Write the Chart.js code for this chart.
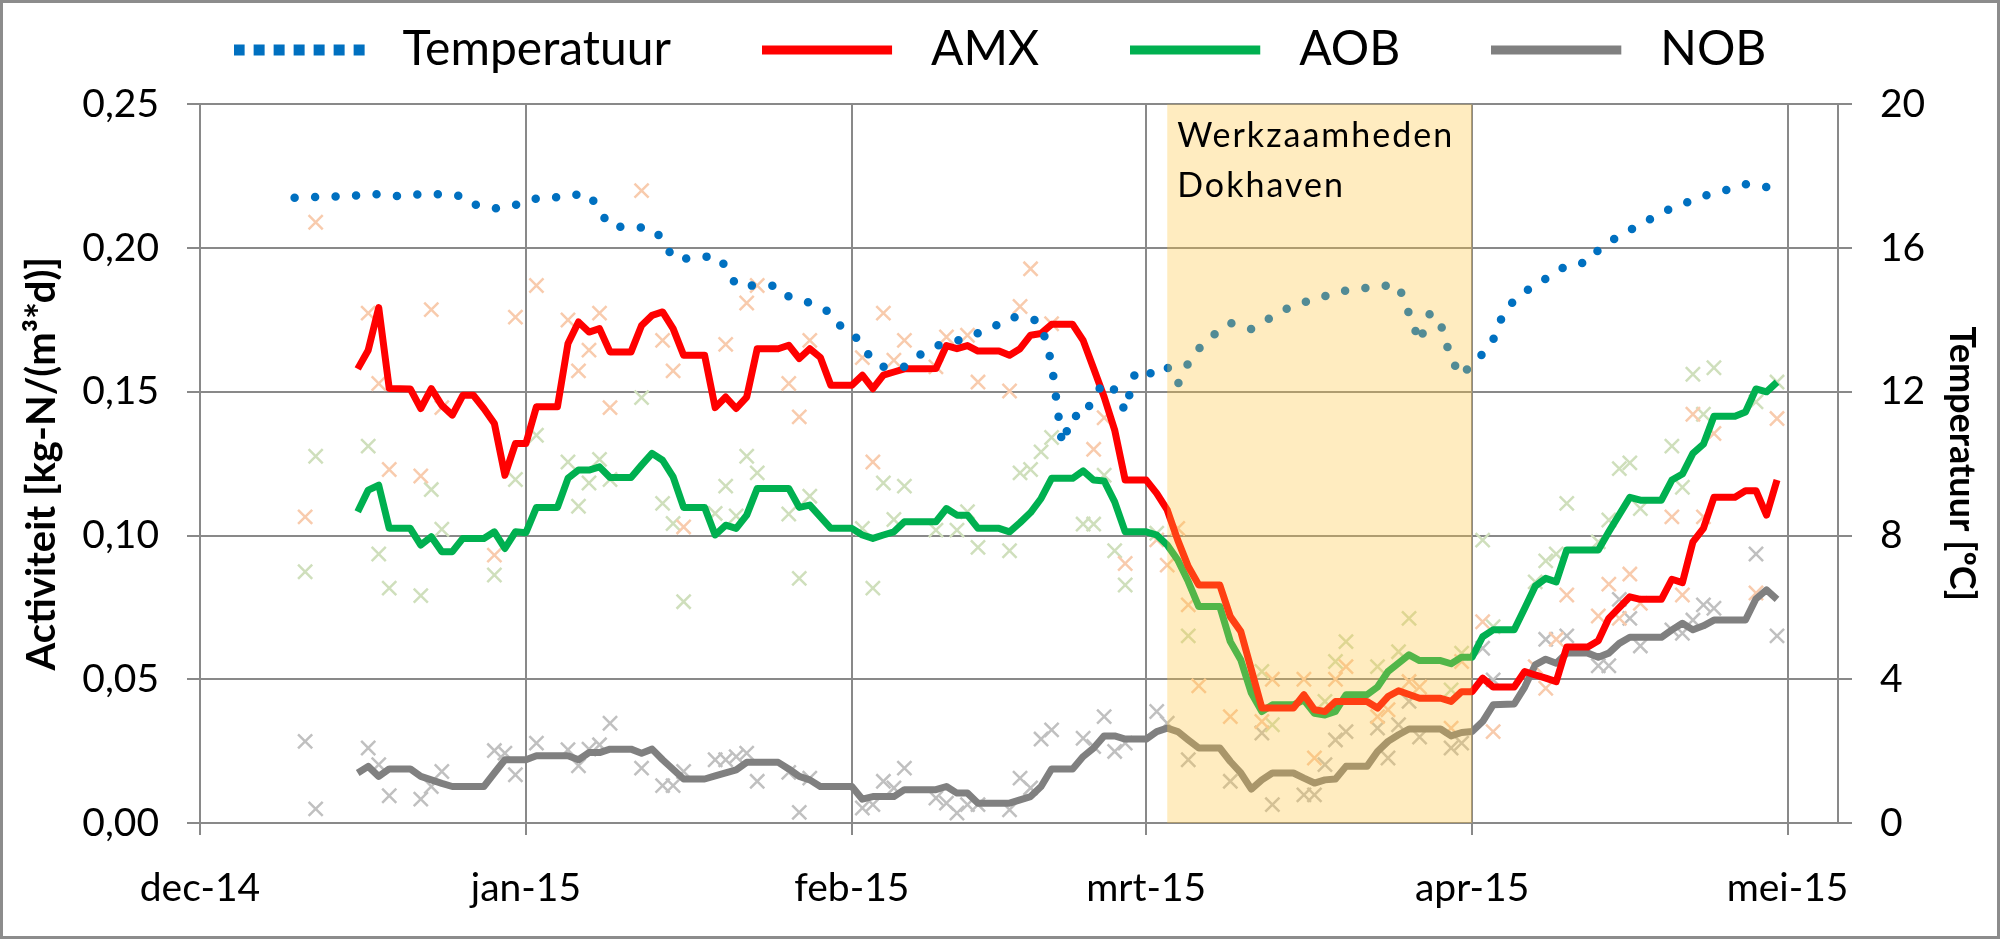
<!DOCTYPE html>
<html lang="nl">
<head>
  <meta charset="UTF-8" />
  <title>Activiteit AMX, AOB en NOB - Dokhaven</title>
  <script src="https://cdn.jsdelivr.net/npm/chart.js"></script>
  <style>
    html, body {
      margin: 0;
      padding: 0;
      background: #ffffff;
    }
    .chart-wrap {
      width: 2000px;
      height: 939px;
    }
  </style>
</head>
<body>
  <div class="chart-wrap">
    <canvas id="activityChart" width="2000" height="939"></canvas>
  </div>

  <script>
    // x = days since 1 dec 2014
    const monthDays = [0, 31, 62, 90, 121, 151];
    const monthLabels = ['dec-14', 'jan-15', 'feb-15', 'mrt-15', 'apr-15', 'mei-15'];

    const worksDays = [92, 121];
    const worksLabel = ['Werkzaamheden', 'Dokhaven'];

    const tempDays = [9, 11, 13, 15, 17, 19, 21, 23, 25, 26,
      28, 30, 32, 34, 35, 37, 38, 39, 41, 43,
      44, 45, 47, 49, 50, 51, 55, 56, 58, 60,
      61, 62, 63, 64, 65, 67, 68, 70, 72, 73,
      75, 77, 79, 80, 81, 82, 83, 84, 85, 86,
      87, 88, 89, 91, 92, 93, 94, 95, 96, 98,
      100, 101, 103, 105, 106, 108, 110, 112, 114, 116,
      117, 118, 119, 120, 121, 122, 123, 124, 125, 127,
      128, 130, 132, 133, 135, 137, 138, 140, 142, 143,
      145, 147, 149, 150];
    const tempValues = [17.4, 17.42, 17.44, 17.47, 17.5, 17.44, 17.5, 17.5, 17.45, 17.22,
      17.1, 17.2, 17.38, 17.42, 17.48, 17.5, 17.05, 16.6, 16.59, 16.55,
      16.25, 15.71, 15.71, 15.8, 15.5, 14.96, 14.95, 14.65, 14.48, 14.2,
      13.8, 13.65, 13.3, 12.85, 12.7, 12.7, 12.95, 13.28, 13.42, 13.55,
      13.72, 14.08, 14.06, 13.9, 12.8, 10.55, 11.35, 11.28, 11.85, 12.28,
      12.05, 11.46, 12.6, 12.48, 12.69, 12.21, 12.8, 13.2, 13.5, 13.92,
      13.75, 13.92, 14.27, 14.5, 14.55, 14.78, 14.85, 14.95, 14.96, 13.39,
      14.2, 13.9, 12.9, 12.44, 12.8, 13.05, 13.45, 14.2, 14.55, 15.0,
      15.15, 15.52, 15.61, 15.95, 16.35, 16.65, 16.82, 17.12, 17.33, 17.45,
      17.6, 17.78, 17.7, 17.65];

    const amxDays = [15, 16, 17, 18, 20, 21, 22, 23, 24, 25,
      26, 27, 28, 29, 30, 31, 32, 34, 35, 36,
      37, 38, 39, 41, 42, 43, 44, 45, 46, 48,
      49, 50, 51, 52, 53, 55, 56, 57, 58, 59,
      60, 62, 63, 64, 65, 66, 67, 69, 70, 71,
      72, 73, 74, 76, 77, 78, 79, 80, 81, 83,
      84, 85, 86, 87, 88, 90, 91, 92, 93, 94,
      95, 97, 98, 99, 100, 101, 104, 105, 106, 107,
      108, 111, 112, 113, 114, 116, 118, 119, 120, 121,
      122, 123, 125, 126, 127, 128, 129, 130, 132, 133,
      134, 136, 137, 139, 140, 141, 142, 143, 144, 146,
      147, 148, 149, 150];
    const amxValues = [0.158, 0.1645, 0.1793, 0.1512, 0.151, 0.1442, 0.1511, 0.1453, 0.1419, 0.1488,
      0.1488, 0.1442, 0.139, 0.121, 0.132, 0.132, 0.1448, 0.1448, 0.1668, 0.1743,
      0.1708, 0.172, 0.1639, 0.1639, 0.1731, 0.1766, 0.1778, 0.172, 0.1627, 0.1627,
      0.1445, 0.1482, 0.1442, 0.1482, 0.165, 0.165, 0.1662, 0.1616, 0.165, 0.162,
      0.1523, 0.1523, 0.1558, 0.1511, 0.1558, 0.1569, 0.158, 0.158, 0.1581, 0.1661,
      0.165, 0.1661, 0.1642, 0.1642, 0.1627, 0.165, 0.1697, 0.1703, 0.1735, 0.1735,
      0.1679, 0.1581, 0.1482, 0.1367, 0.1193, 0.1193, 0.1147, 0.1089, 0.0984, 0.0892,
      0.0828, 0.0828, 0.0718, 0.0666, 0.0533, 0.04, 0.04, 0.0446, 0.0394, 0.0388,
      0.0423, 0.0423, 0.04, 0.044, 0.046, 0.0434, 0.0434, 0.0423, 0.0457, 0.0457,
      0.0504, 0.0473, 0.0473, 0.0527, 0.0515, 0.0504, 0.0492, 0.0612, 0.0612, 0.0634,
      0.0712, 0.0787, 0.0778, 0.0778, 0.0848, 0.0836, 0.0978, 0.1025, 0.1133, 0.1133,
      0.1156, 0.1156, 0.1071, 0.1193];

    const aobDays = [15, 16, 17, 18, 20, 21, 22, 23, 24, 25,
      27, 28, 29, 30, 31, 32, 34, 35, 36, 37,
      38, 39, 41, 42, 43, 44, 45, 46, 48, 49,
      50, 51, 52, 53, 56, 57, 58, 60, 62, 63,
      64, 65, 66, 67, 70, 71, 72, 73, 74, 76,
      77, 78, 79, 80, 81, 83, 84, 85, 86, 87,
      88, 90, 91, 92, 93, 94, 95, 97, 98, 99,
      100, 101, 102, 104, 105, 106, 107, 108, 109, 111,
      112, 113, 115, 116, 118, 119, 120, 121, 122, 123,
      125, 126, 127, 128, 129, 130, 133, 134, 136, 137,
      139, 140, 141, 142, 143, 144, 146, 147, 148, 149,
      150];
    const aobValues = [0.1083, 0.1158, 0.1175, 0.1025, 0.1025, 0.0967, 0.0996, 0.0944, 0.0944, 0.099,
      0.099, 0.1013, 0.0955, 0.1013, 0.101, 0.1098, 0.1098, 0.1199, 0.1228, 0.1228,
      0.1239, 0.1202, 0.1202, 0.1245, 0.1286, 0.1262, 0.1204, 0.1098, 0.1098, 0.1002,
      0.1036, 0.1025, 0.1071, 0.1164, 0.1164, 0.1098, 0.1106, 0.1025, 0.1025, 0.1002,
      0.099, 0.1002, 0.1013, 0.1048, 0.1048, 0.1094, 0.1071, 0.1071, 0.1025, 0.1025,
      0.1013, 0.1045, 0.108, 0.1129, 0.1199, 0.1199, 0.1225, 0.1193, 0.119, 0.1117,
      0.1013, 0.1013, 0.1002, 0.0967, 0.0915, 0.084, 0.0753, 0.0753, 0.0631, 0.0567,
      0.0452, 0.0388, 0.0411, 0.0411, 0.0428, 0.0382, 0.0376, 0.0388, 0.0446, 0.0446,
      0.0473, 0.0527, 0.0585, 0.0565, 0.0565, 0.0554, 0.0577, 0.0577, 0.0648, 0.0672,
      0.0672, 0.0747, 0.0824, 0.0851, 0.0839, 0.095, 0.095, 0.1013, 0.1133, 0.1123,
      0.1123, 0.1193, 0.1214, 0.1286, 0.1318, 0.1415, 0.1415, 0.143, 0.151, 0.15,
      0.1534];

    const nobDays = [15, 16, 17, 18, 20, 21, 22, 23, 24, 27,
      28, 29, 31, 32, 35, 36, 37, 38, 39, 41,
      42, 43, 44, 46, 48, 49, 51, 52, 55, 56,
      57, 58, 59, 62, 63, 64, 66, 67, 70, 71,
      72, 73, 74, 77, 79, 80, 81, 83, 84, 85,
      86, 87, 88, 90, 91, 92, 93, 94, 95, 97,
      98, 99, 100, 101, 102, 104, 105, 106, 107, 108,
      109, 111, 112, 113, 114, 115, 118, 119, 120, 121,
      122, 123, 125, 126, 127, 128, 129, 130, 132, 133,
      134, 135, 136, 139, 140, 141, 142, 143, 144, 147,
      148, 149, 150];
    const nobValues = [0.0174, 0.0197, 0.0162, 0.0188, 0.0188, 0.0162, 0.015, 0.0138, 0.0127, 0.0127,
      0.0174, 0.022, 0.022, 0.0234, 0.0234, 0.022, 0.0245, 0.0245, 0.0257, 0.0257,
      0.0243, 0.0257, 0.022, 0.0153, 0.0153, 0.0164, 0.0185, 0.0211, 0.0211, 0.0188,
      0.0162, 0.015, 0.0127, 0.0127, 0.0083, 0.0092, 0.0092, 0.0116, 0.0116, 0.0127,
      0.0104, 0.0104, 0.0069, 0.0069, 0.0092, 0.0127, 0.0188, 0.0188, 0.0231, 0.0261,
      0.0303, 0.0303, 0.0292, 0.0292, 0.0318, 0.033, 0.0318, 0.0289, 0.0261, 0.0261,
      0.0214, 0.0174, 0.0118, 0.015, 0.0174, 0.0174, 0.0156, 0.0139, 0.015, 0.0153,
      0.0197, 0.0197, 0.0249, 0.0284, 0.0307, 0.0327, 0.0327, 0.0303, 0.0315, 0.0318,
      0.0353, 0.0411, 0.0414, 0.0473, 0.055, 0.057, 0.0556, 0.0591, 0.0591, 0.0577,
      0.0591, 0.0625, 0.0646, 0.0646, 0.0672, 0.0695, 0.0672, 0.0686, 0.0706, 0.0706,
      0.078, 0.0811, 0.0778];

    // single measurements (crosses)
    const amxRawDays = [10, 11, 16, 17, 18, 21, 22, 23, 28, 30,
      32, 35, 36, 37, 38, 39, 42, 44, 45, 46,
      50, 52, 53, 56, 57, 58, 63, 64, 65, 66,
      67, 70, 71, 73, 74, 77, 78, 79, 81, 85,
      86, 88, 91, 92, 93, 94, 95, 98, 101, 102,
      105, 106, 108, 109, 112, 113, 115, 116, 119, 120,
      122, 123, 127, 128, 129, 130, 133, 134, 135, 136,
      137, 140, 141, 142, 143, 144, 148, 150];
    const amxRawValues = [0.1065, 0.209, 0.1774, 0.1529, 0.123, 0.1207, 0.1786, 0.1445, 0.0932, 0.176,
      0.187, 0.175, 0.1573, 0.1645, 0.1774, 0.1445, 0.22, 0.1679, 0.1573, 0.103,
      0.1665, 0.1809, 0.187, 0.1529, 0.1413, 0.1679, 0.1619, 0.1256, 0.1774, 0.161,
      0.1679, 0.1587, 0.1691, 0.1697, 0.1534, 0.1503, 0.1797, 0.1928, 0.1737, 0.13,
      0.141, 0.0903, 0.0985, 0.0897, 0.1025, 0.0759, 0.0477, 0.037, 0.0353, 0.05,
      0.05, 0.0226, 0.05, 0.0544, 0.037, 0.0394, 0.0492, 0.0473, 0.033, 0.0562,
      0.07, 0.0318, 0.0544, 0.0469, 0.0639, 0.0793, 0.072, 0.0831, 0.0712, 0.0866,
      0.0764, 0.1065, 0.0793, 0.1422, 0.1065, 0.1355, 0.08, 0.1407];

    const aobRawDays = [10, 11, 16, 17, 18, 21, 22, 23, 28, 30,
      32, 35, 36, 37, 38, 39, 42, 44, 45, 46,
      49, 50, 51, 52, 53, 56, 57, 58, 63, 64,
      65, 66, 67, 70, 72, 73, 74, 77, 78, 79,
      80, 81, 84, 85, 86, 87, 88, 91, 94, 101,
      102, 107, 108, 109, 112, 114, 115, 119, 120, 122,
      123, 127, 128, 129, 130, 133, 134, 135, 136, 137,
      140, 141, 142, 143, 144, 148, 150];
    const aobRawValues = [0.0874, 0.1276, 0.1311, 0.0936, 0.0817, 0.0791, 0.116, 0.1022, 0.0863, 0.1195,
      0.1349, 0.1256, 0.1102, 0.1183, 0.1265, 0.1195, 0.148, 0.1112, 0.1042, 0.077,
      0.1077, 0.1172, 0.1068, 0.1276, 0.1218, 0.1075, 0.0851, 0.1137, 0.1025, 0.0817,
      0.1183, 0.1056, 0.1172, 0.1019, 0.1019, 0.1083, 0.0959, 0.0947, 0.1218, 0.123,
      0.1291, 0.1341, 0.104, 0.104, 0.121, 0.0947, 0.0828, 0.1008, 0.0651, 0.0527,
      0.0342, 0.0423, 0.0562, 0.0631, 0.0544, 0.0596, 0.0712, 0.0463, 0.0591, 0.0984,
      0.0683, 0.0839, 0.0912, 0.0936, 0.1112, 0.0978, 0.1054, 0.1233, 0.1253, 0.1094,
      0.1311, 0.1168, 0.1561, 0.1422, 0.1584, 0.1465, 0.1534];

    const nobRawDays = [10, 11, 16, 17, 18, 21, 22, 23, 28, 29,
      30, 32, 35, 36, 37, 38, 39, 42, 44, 45,
      46, 49, 50, 51, 52, 53, 56, 57, 58, 63,
      64, 65, 66, 67, 70, 71, 72, 73, 74, 77,
      78, 79, 80, 81, 84, 85, 86, 87, 88, 91,
      92, 94, 98, 101, 102, 105, 106, 107, 108, 109,
      112, 113, 114, 115, 116, 119, 120, 122, 123, 128,
      130, 133, 134, 135, 136, 137, 140, 141, 142, 143,
      144, 148, 150];
    const nobRawValues = [0.0284, 0.0049, 0.0261, 0.0203, 0.0095, 0.0083, 0.0127, 0.0179, 0.0252, 0.0243,
      0.0168, 0.0278, 0.0255, 0.0199, 0.0257, 0.0272, 0.0347, 0.0191, 0.013, 0.013,
      0.0179, 0.022, 0.022, 0.0231, 0.0243, 0.0145, 0.0176, 0.0037, 0.0156, 0.0052,
      0.0064, 0.0145, 0.0122, 0.0191, 0.0087, 0.0069, 0.0035, 0.0064, 0.0064, 0.0046,
      0.0156, 0.0122, 0.0292, 0.0324, 0.0295, 0.0266, 0.037, 0.0249, 0.0278, 0.0388,
      0.0347, 0.022, 0.0145, 0.0313, 0.0064, 0.0098, 0.0098, 0.0203, 0.0289, 0.0318,
      0.033, 0.0226, 0.0342, 0.0423, 0.0299, 0.0261, 0.0278, 0.0608, 0.0498, 0.0639,
      0.0651, 0.0547, 0.0547, 0.0778, 0.0712, 0.0616, 0.0672, 0.066, 0.0706, 0.0759,
      0.0747, 0.0936, 0.0651];

    const toPoints = (days, values) => days.map((d, i) => ({ x: d, y: values[i] }));

    Chart.defaults.font.family = 'Lato, "Open Sans", sans-serif';
    Chart.defaults.color = '#000000';

    const gridColor = '#898989';

    // little canvases used as legend samples
    function legendSample(ds) {
      const c = document.createElement('canvas');
      c.width = 145;
      c.height = 12;
      const g = c.getContext('2d');
      g.fillStyle = ds.borderColor;
      if (ds.borderDash) {
        for (let x = 0; x < 130; x += 20) g.fillRect(x, 0.5, 11, 11);
      } else {
        g.fillRect(0, 1.5, 130, 9);
      }
      return c;
    }

    const worksBand = {
      id: 'worksBand',
      afterDatasetsDraw(chart) {
        const { ctx, chartArea, scales } = chart;
        const x0 = scales.x.getPixelForValue(worksDays[0]);
        const x1 = scales.x.getPixelForValue(worksDays[1]);
        ctx.save();
        ctx.fillStyle = 'rgba(255, 195, 60, 0.32)';
        ctx.fillRect(x0, chartArea.top, x1 - x0, chartArea.bottom - chartArea.top);
        ctx.fillStyle = '#000000';
        ctx.font = '34px Lato, sans-serif';
        if ('letterSpacing' in ctx) ctx.letterSpacing = '2px';
        ctx.textBaseline = 'alphabetic';
        worksLabel.forEach((line, i) => {
          ctx.fillText(line, x0 + 10, chartArea.top + 43 + i * 50);
        });
        ctx.restore();
      }
    };

    const frame = {
      id: 'frame',
      beforeDraw(chart) {
        const { ctx, width, height } = chart;
        ctx.save();
        ctx.fillStyle = '#ffffff';
        ctx.fillRect(0, 0, width, height);
        ctx.restore();
      },
      afterDraw(chart) {
        const { ctx, width, height } = chart;
        ctx.save();
        ctx.strokeStyle = '#8c8c8c';
        ctx.lineWidth = 3;
        ctx.strokeRect(1.5, 1.5, width - 3, height - 3);
        ctx.restore();
      }
    };

    const lineStyle = {
      pointRadius: 0,
      pointHoverRadius: 0,
      borderWidth: 7,
      borderJoinStyle: 'round',
      tension: 0,
      fill: false
    };

    const crossStyle = {
      showLine: false,
      pointStyle: 'crossRot',
      pointRadius: 10,
      pointHoverRadius: 10,
      pointBorderWidth: 2.5,
      order: 10
    };

    new Chart(document.getElementById('activityChart'), {
      type: 'line',
      data: {
        datasets: [
          {
            label: 'Temperatuur',
            data: toPoints(tempDays, tempValues),
            yAxisID: 'yT',
            borderColor: '#0070c0',
            borderWidth: 8.5,
            borderDash: [0, 20.5],
            borderCapStyle: 'round',
            borderJoinStyle: 'round',
            pointRadius: 0,
            pointHoverRadius: 0,
            tension: 0,
            order: 1
          },
          { ...lineStyle, label: 'AMX', data: toPoints(amxDays, amxValues), yAxisID: 'y', borderColor: '#ff0000', order: 2 },
          { ...lineStyle, label: 'AOB', data: toPoints(aobDays, aobValues), yAxisID: 'y', borderColor: '#00b050', order: 3 },
          { ...lineStyle, label: 'NOB', data: toPoints(nobDays, nobValues), yAxisID: 'y', borderColor: '#808080', order: 4 },
          { ...crossStyle, label: 'AMX meting', data: toPoints(amxRawDays, amxRawValues), yAxisID: 'y', pointBorderColor: '#f8cbad', borderColor: '#f8cbad' },
          { ...crossStyle, label: 'AOB meting', data: toPoints(aobRawDays, aobRawValues), yAxisID: 'y', pointBorderColor: '#cfdfbc', borderColor: '#cfdfbc' },
          { ...crossStyle, label: 'NOB meting', data: toPoints(nobRawDays, nobRawValues), yAxisID: 'y', pointBorderColor: '#c0c0c0', borderColor: '#c0c0c0' }
        ]
      },
      options: {
        responsive: false,
        animation: false,
        devicePixelRatio: 1,
        layout: {
          padding: { top: -65, left: 0, right: 0, bottom: 0 }
        },
        plugins: {
          legend: {
            position: 'top',
            labels: {
              usePointStyle: true,
              pointStyleWidth: 145,
              padding: 91,
              color: '#000000',
              font: { size: 48 },
              generateLabels: chart => chart.data.datasets.slice(0, 4).map((ds, i) => ({
                text: ds.label,
                datasetIndex: i,
                hidden: false,
                pointStyle: legendSample(ds),
                lineWidth: 0,
                strokeStyle: 'rgba(0,0,0,0)',
                fillStyle: 'rgba(0,0,0,0)'
              }))
            }
          },
          // empty title used as spacing between legend and plot
          title: {
            display: true,
            text: '',
            weight: 500,
            padding: 0,
            font: { size: 17 }
          },
          tooltip: { enabled: false }
        },
        scales: {
          x: {
            type: 'linear',
            min: 0,
            max: 155.8,
            afterBuildTicks: axis => {
              axis.ticks = monthDays.map(v => ({ value: v }));
            },
            afterFit: axis => {
              axis.height = 116;
            },
            ticks: {
              autoSkip: false,
              maxRotation: 0,
              padding: 30,
              font: { size: 39 },
              callback: (value, index) => monthLabels[index]
            },
            grid: { color: gridColor, lineWidth: 2, tickLength: 12 },
            border: { color: gridColor, width: 2 }
          },
          y: {
            position: 'left',
            min: 0,
            max: 0.25,
            afterFit: axis => {
              axis.width = 200;
            },
            ticks: {
              stepSize: 0.05,
              padding: 28,
              font: { size: 39 },
              callback: v => v.toFixed(2).replace('.', ',')
            },
            grid: { color: gridColor, lineWidth: 2, tickLength: 13 },
            border: { color: gridColor, width: 2 },
            title: {
              display: true,
              text: 'Activiteit [kg-N/(m³*d)]',
              font: { size: 40, weight: 'bold' },
              padding: { top: 18, bottom: 0 }
            }
          },
          yT: {
            position: 'right',
            min: 0,
            max: 20,
            afterFit: axis => {
              axis.width = 162;
            },
            ticks: {
              stepSize: 4,
              padding: 28,
              font: { size: 39 }
            },
            grid: { drawOnChartArea: false, color: gridColor, lineWidth: 2, tickLength: 14 },
            border: { color: gridColor, width: 2 },
            title: {
              display: true,
              text: 'Temperatuur [ºC]',
              font: { size: 36, weight: 'bold' },
              padding: { top: 17, bottom: 0 }
            }
          }
        }
      },
      plugins: [frame, worksBand]
    });
  </script>
</body>
</html>
